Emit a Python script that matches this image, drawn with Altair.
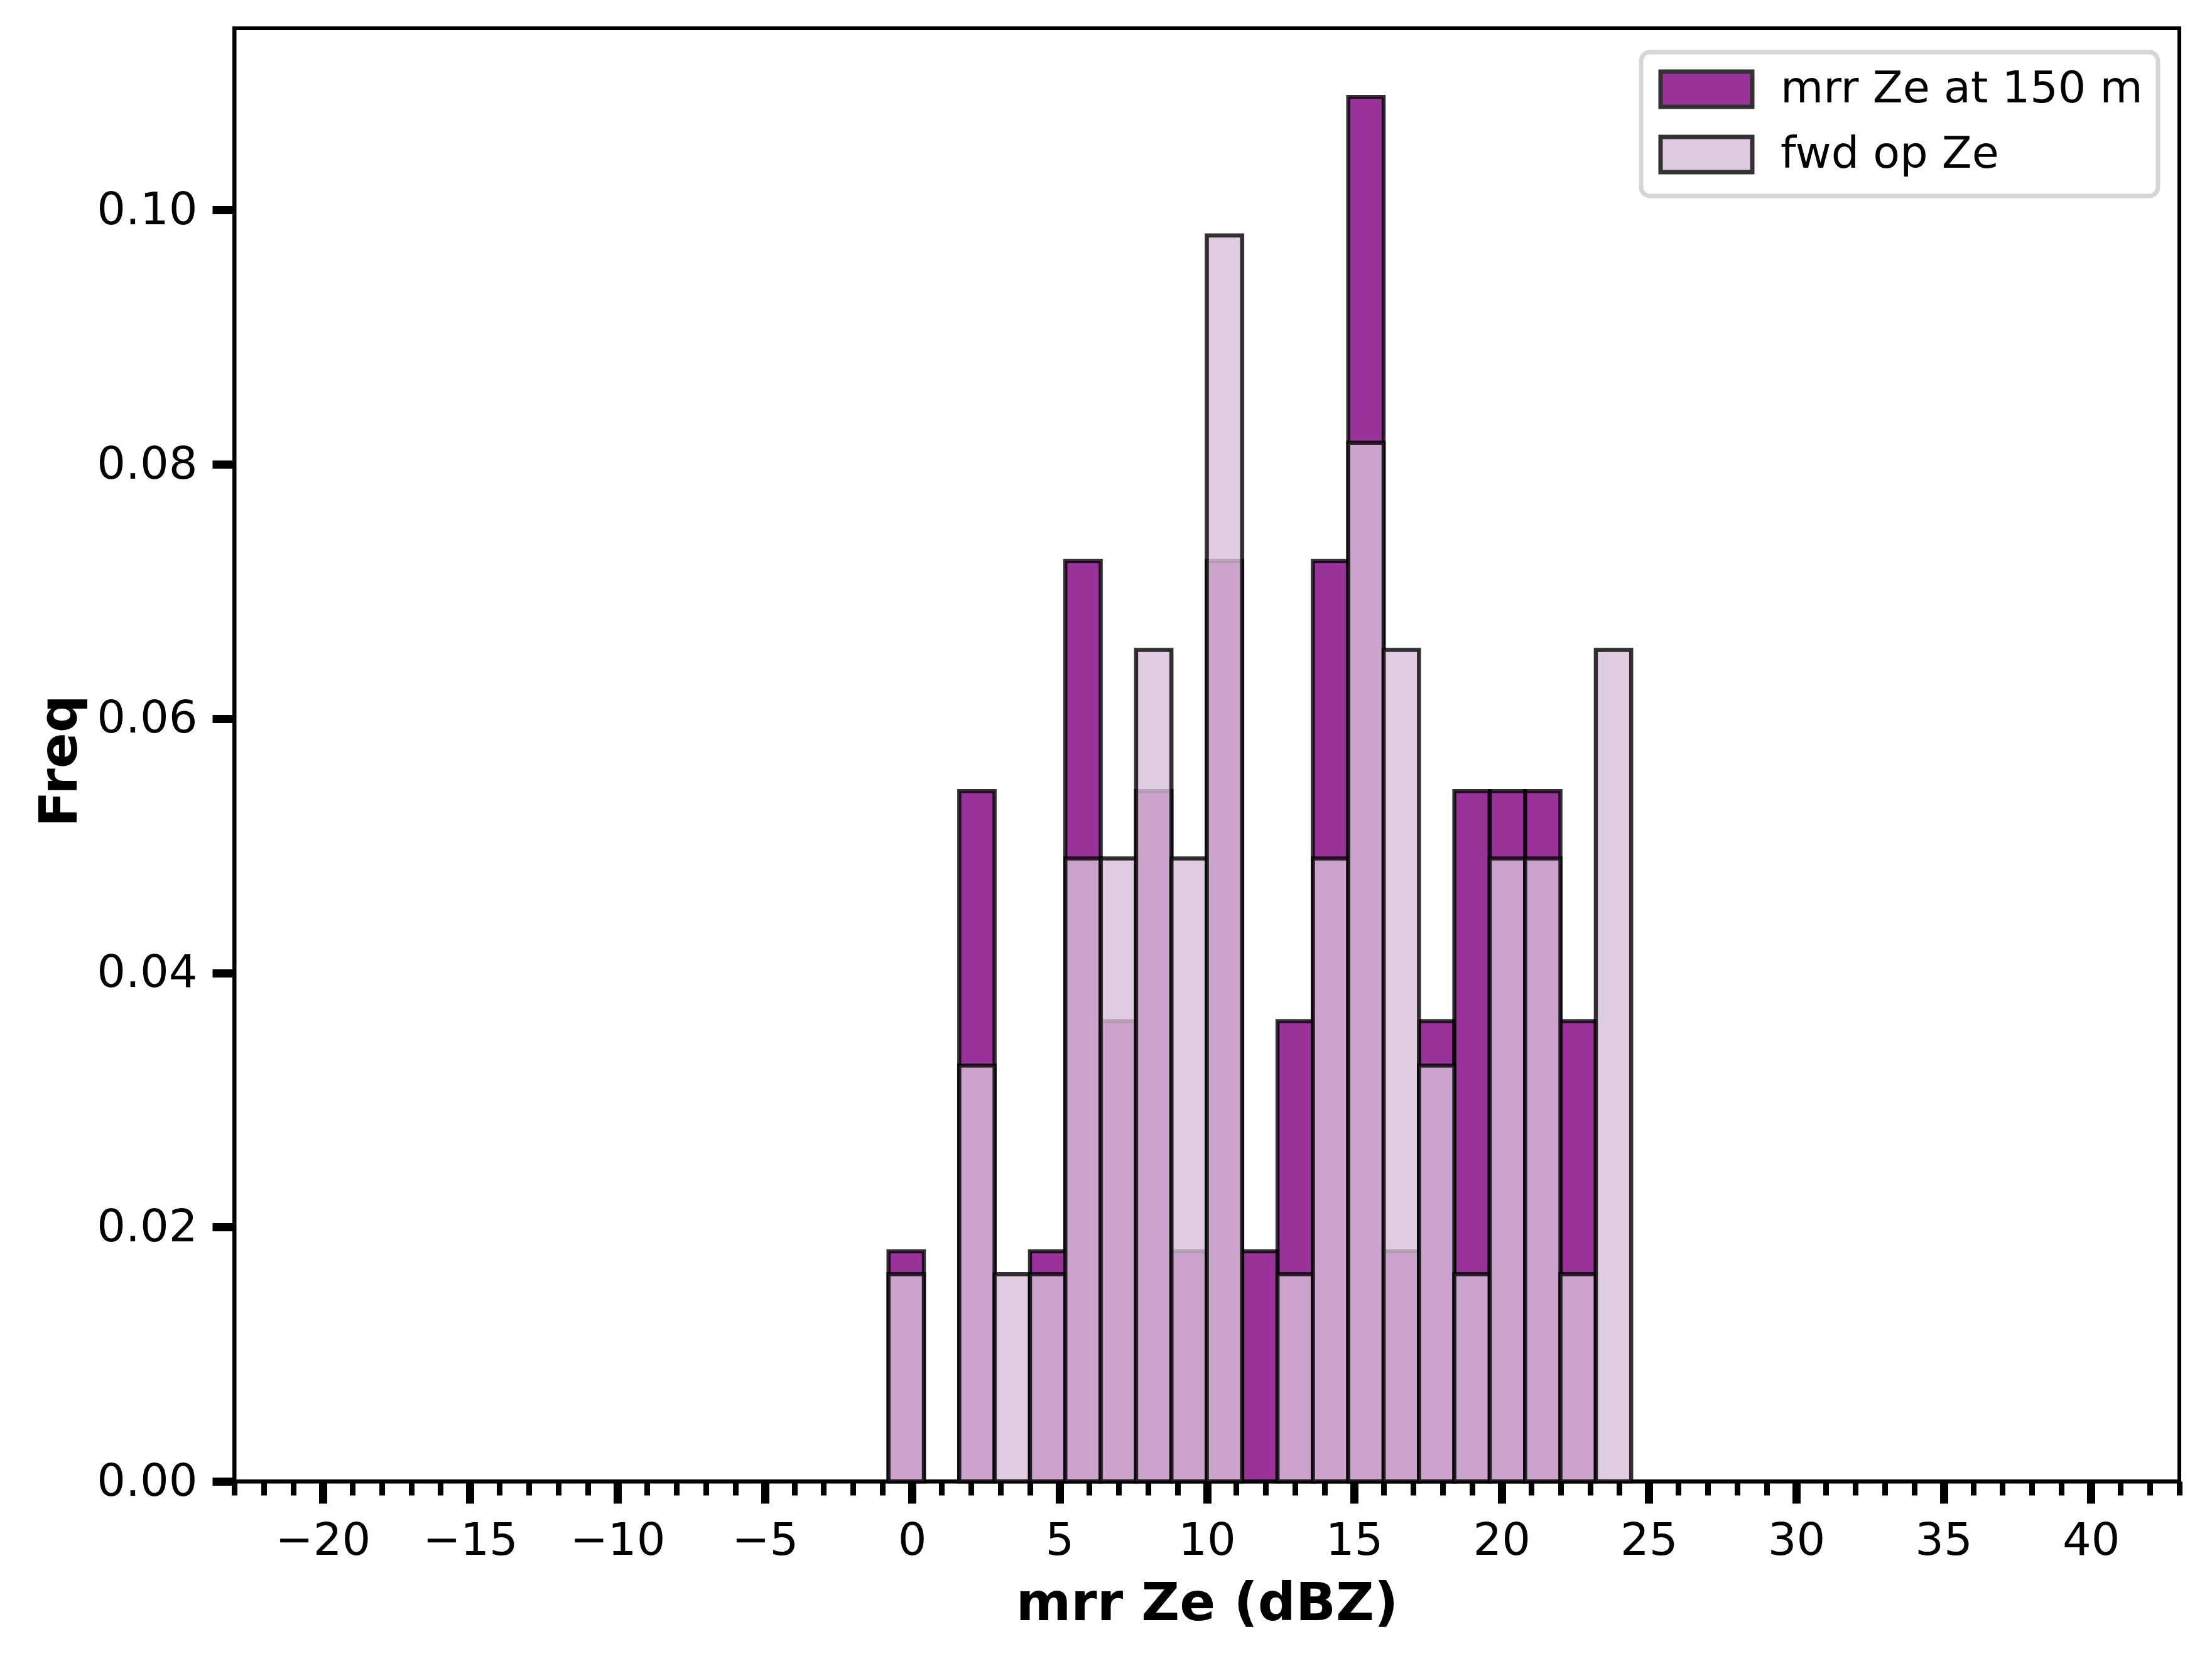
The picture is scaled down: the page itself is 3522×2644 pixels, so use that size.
import altair as alt
import pandas as pd

# ---- data ----
bin_edges = [-0.8, 0.4, 1.6, 2.8, 4.0, 5.2, 6.4, 7.6, 8.8, 10.0, 11.2,
             12.4, 13.6, 14.8, 16.0, 17.2, 18.4, 19.6, 20.8, 22.0, 23.2, 24.4]
mrr_freq = [0.0181, 0.0, 0.0543, 0.0, 0.0181, 0.0724, 0.0362, 0.0543, 0.0181, 0.0724,
            0.0181, 0.0362, 0.0724, 0.1089, 0.0181, 0.0362, 0.0543, 0.0543, 0.0543,
            0.0362, 0.0]
fwd_freq = [0.0163, 0.0, 0.0327, 0.0163, 0.0163, 0.0490, 0.0490, 0.0654, 0.0490, 0.0980,
            0.0, 0.0163, 0.0490, 0.0817, 0.0654, 0.0327, 0.0163, 0.0490, 0.0490,
            0.0163, 0.0654]
series_names = ["mrr Ze at 150 m", "fwd op Ze"]
series_colors = ["purple", "thistle"]
x_ticks = list(range(-23, 44))
y_ticks = [0.0, 0.02, 0.04, 0.06, 0.08, 0.10]
x_title = "mrr Ze (dBZ)"
y_title = "Freq"


def frame(values, name):
    rows = []
    for i, v in enumerate(values):
        if v > 0:
            rows.append({"start": bin_edges[i], "end": bin_edges[i + 1],
                         "freq": v, "series": name})
    return pd.DataFrame(rows)


mrr_df = frame(mrr_freq, series_names[0])
fwd_df = frame(fwd_freq, series_names[1])

W, H = 3097, 2313
FONT = "DejaVu Sans"

x_scale = alt.Scale(domain=[-23, 43], nice=False, zero=False)
y_scale = alt.Scale(domain=[0, 0.1143], nice=False)

major = "datum.value % 5 === 0"
x_axis = alt.Axis(
    values=x_ticks, format="d",
    labelExpr=f"{major} ? datum.label : ''",
    tickSize={"condition": {"test": major, "value": 35}, "value": 22},
    tickWidth={"condition": {"test": major, "value": 13}, "value": 9},
    tickColor="black", domainColor="black", domainWidth=6,
    labelFont=FONT, labelFontSize=72, labelColor="black", labelPadding=24,
    labelOverlap=False, labelFlush=False, labelBound=False,
    grid=False,
    title=x_title, titleFont=FONT, titleFontSize=84, titleFontWeight="bold",
    titleColor="black", titleX=W / 2, titleY=220, titleBaseline="alphabetic",
    titleAlign="center",
)
y_axis = alt.Axis(
    values=y_ticks, format=".2f",
    tickSize=35, tickWidth=13, tickColor="black",
    domainColor="black", domainWidth=6,
    labelFont=FONT, labelFontSize=72, labelColor="black", labelPadding=24,
    labelOverlap=False, labelFlush=False, grid=False,
    title=y_title, titleFont=FONT, titleFontSize=84, titleFontWeight="bold",
    titleColor="black", titleAngle=270, titleX=-252, titleY=1166,
    titleBaseline="alphabetic", titleAlign="center",
)

# wide rectangular legend patch (146 x 56 px): nominal symbol is 56 px,
# the path extends to the right of it
legend = alt.Legend(
    title=None, orient="none", legendX=2240, legendY=38,
    symbolType="M-1,-1L4.214,-1L4.214,1L-1,1Z",
    symbolSize=3136, symbolStrokeColor="black", symbolStrokeWidth=7,
    symbolOpacity=0.8,
    labelFont=FONT, labelFontSize=70, labelColor="black", labelOffset=128,
    labelLimit=0,
    padding=24, rowPadding=20,
    fillColor="white", strokeColor="#d6d6d6", cornerRadius=14,
)

color = alt.Color("series:N",
                  scale=alt.Scale(domain=series_names, range=series_colors),
                  legend=legend)


def bars(df):
    return alt.Chart(df).mark_bar(
        stroke="black", strokeWidth=6.5, fillOpacity=0.8, strokeOpacity=0.8
    ).encode(
        x=alt.X("start:Q", scale=x_scale, axis=x_axis),
        x2="end:Q",
        y=alt.Y("freq:Q", scale=y_scale, axis=y_axis, stack=None),
        y2=alt.datum(0),
        color=color,
    )


chart = alt.layer(bars(mrr_df), bars(fwd_df)).properties(
    width=W, height=H,
    autosize=alt.AutoSizeParams(type="none"),
    padding={"left": 365, "top": 37, "right": 44, "bottom": 270},
    background="white",
).configure_view(
    stroke="black", strokeWidth=6
).configure_legend(
    strokeWidth=7
)

chart.save("out.html", embed_options={"renderer": "svg", "actions": False})
